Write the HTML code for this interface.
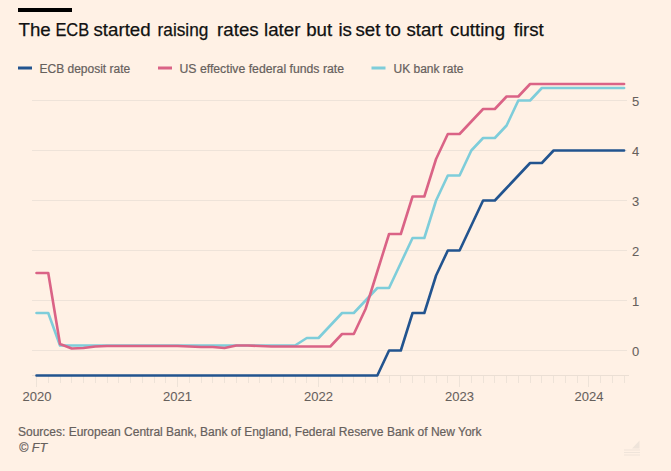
<!DOCTYPE html>
<html><head><meta charset="utf-8">
<style>
html,body{margin:0;padding:0;background:#fff1e5;}
body{width:671px;height:471px;overflow:hidden;}
svg{display:block;}
text{font-family:"Liberation Sans",sans-serif;}
.ax{font-size:13px;fill:#66605c;stroke:#66605c;stroke-width:0.08px;}
.lg{font-size:12px;fill:#66605c;stroke:#66605c;stroke-width:0.2px;}
</style></head>
<body>
<svg width="671" height="471" viewBox="0 0 671 471">
<rect x="0" y="0" width="671" height="471" fill="#fff1e5"/>
<rect x="18" y="8" width="54" height="4" fill="#000"/>
<text y="36" style="font-size:18.7px;fill:#111;stroke:#111;stroke-width:0.25px"><tspan x="18.50">The</tspan><tspan x="55.40" textLength="33.8" lengthAdjust="spacingAndGlyphs">ECB</tspan><tspan x="93.50">started</tspan><tspan x="157.60" textLength="50.7" lengthAdjust="spacingAndGlyphs">raising</tspan><tspan x="217.10">rates</tspan><tspan x="264.00">later</tspan><tspan x="306.20">but</tspan><tspan x="338.40">is</tspan><tspan x="355.50">set</tspan><tspan x="385.30">to</tspan><tspan x="406.40">start</tspan><tspan x="450.10">cutting</tspan><tspan x="513.70">first</tspan></text>
<rect x="18" y="66.5" width="14" height="3" fill="#22548f"/>
<text x="39.5" y="73" class="lg">ECB deposit rate</text>
<rect x="158" y="66.5" width="14" height="3" fill="#da6386"/>
<text x="179.5" y="73" class="lg" textLength="164.5" lengthAdjust="spacingAndGlyphs">US effective federal funds rate</text>
<rect x="371.5" y="66.5" width="14" height="3" fill="#7ecdda"/>
<text x="393.5" y="73" class="lg">UK bank rate</text>
<line x1="32" y1="350.5" x2="627" y2="350.5" stroke="#eee3d9" stroke-width="1"/>
<text x="632" y="355.5" class="ax">0</text>
<line x1="32" y1="300.5" x2="627" y2="300.5" stroke="#eee3d9" stroke-width="1"/>
<text x="632" y="305.5" class="ax">1</text>
<line x1="32" y1="250.5" x2="627" y2="250.5" stroke="#eee3d9" stroke-width="1"/>
<text x="632" y="255.5" class="ax">2</text>
<line x1="32" y1="200.5" x2="627" y2="200.5" stroke="#eee3d9" stroke-width="1"/>
<text x="632" y="205.5" class="ax">3</text>
<line x1="32" y1="150.5" x2="627" y2="150.5" stroke="#eee3d9" stroke-width="1"/>
<text x="632" y="155.5" class="ax">4</text>
<line x1="32" y1="100.5" x2="627" y2="100.5" stroke="#eee3d9" stroke-width="1"/>
<text x="632" y="105.5" class="ax">5</text>

<line x1="32" y1="375.5" x2="629" y2="375.5" stroke="#ebdfd4" stroke-width="1"/>
<line x1="36.5" y1="376" x2="36.5" y2="387" stroke="#eee3d8" stroke-width="1"/>
<text x="36.9" y="401" class="ax" text-anchor="middle">2020</text>
<line x1="48.5" y1="376" x2="48.5" y2="383" stroke="#eee3d8" stroke-width="1"/>
<line x1="60.5" y1="376" x2="60.5" y2="383" stroke="#eee3d8" stroke-width="1"/>
<line x1="71.5" y1="376" x2="71.5" y2="383" stroke="#eee3d8" stroke-width="1"/>
<line x1="83.5" y1="376" x2="83.5" y2="383" stroke="#eee3d8" stroke-width="1"/>
<line x1="95.5" y1="376" x2="95.5" y2="383" stroke="#eee3d8" stroke-width="1"/>
<line x1="107.5" y1="376" x2="107.5" y2="383" stroke="#eee3d8" stroke-width="1"/>
<line x1="118.5" y1="376" x2="118.5" y2="383" stroke="#eee3d8" stroke-width="1"/>
<line x1="130.5" y1="376" x2="130.5" y2="383" stroke="#eee3d8" stroke-width="1"/>
<line x1="142.5" y1="376" x2="142.5" y2="383" stroke="#eee3d8" stroke-width="1"/>
<line x1="154.5" y1="376" x2="154.5" y2="383" stroke="#eee3d8" stroke-width="1"/>
<line x1="165.5" y1="376" x2="165.5" y2="383" stroke="#eee3d8" stroke-width="1"/>
<line x1="177.5" y1="376" x2="177.5" y2="387" stroke="#eee3d8" stroke-width="1"/>
<text x="177.5" y="401" class="ax" text-anchor="middle">2021</text>
<line x1="189.5" y1="376" x2="189.5" y2="383" stroke="#eee3d8" stroke-width="1"/>
<line x1="201.5" y1="376" x2="201.5" y2="383" stroke="#eee3d8" stroke-width="1"/>
<line x1="212.5" y1="376" x2="212.5" y2="383" stroke="#eee3d8" stroke-width="1"/>
<line x1="224.5" y1="376" x2="224.5" y2="383" stroke="#eee3d8" stroke-width="1"/>
<line x1="236.5" y1="376" x2="236.5" y2="383" stroke="#eee3d8" stroke-width="1"/>
<line x1="248.5" y1="376" x2="248.5" y2="383" stroke="#eee3d8" stroke-width="1"/>
<line x1="259.5" y1="376" x2="259.5" y2="383" stroke="#eee3d8" stroke-width="1"/>
<line x1="271.5" y1="376" x2="271.5" y2="383" stroke="#eee3d8" stroke-width="1"/>
<line x1="283.5" y1="376" x2="283.5" y2="383" stroke="#eee3d8" stroke-width="1"/>
<line x1="295.5" y1="376" x2="295.5" y2="383" stroke="#eee3d8" stroke-width="1"/>
<line x1="306.5" y1="376" x2="306.5" y2="383" stroke="#eee3d8" stroke-width="1"/>
<line x1="318.5" y1="376" x2="318.5" y2="387" stroke="#eee3d8" stroke-width="1"/>
<text x="318.5" y="401" class="ax" text-anchor="middle">2022</text>
<line x1="330.5" y1="376" x2="330.5" y2="383" stroke="#eee3d8" stroke-width="1"/>
<line x1="342.5" y1="376" x2="342.5" y2="383" stroke="#eee3d8" stroke-width="1"/>
<line x1="353.5" y1="376" x2="353.5" y2="383" stroke="#eee3d8" stroke-width="1"/>
<line x1="365.5" y1="376" x2="365.5" y2="383" stroke="#eee3d8" stroke-width="1"/>
<line x1="377.5" y1="376" x2="377.5" y2="383" stroke="#eee3d8" stroke-width="1"/>
<line x1="389.5" y1="376" x2="389.5" y2="383" stroke="#eee3d8" stroke-width="1"/>
<line x1="400.5" y1="376" x2="400.5" y2="383" stroke="#eee3d8" stroke-width="1"/>
<line x1="412.5" y1="376" x2="412.5" y2="383" stroke="#eee3d8" stroke-width="1"/>
<line x1="424.5" y1="376" x2="424.5" y2="383" stroke="#eee3d8" stroke-width="1"/>
<line x1="436.5" y1="376" x2="436.5" y2="383" stroke="#eee3d8" stroke-width="1"/>
<line x1="447.5" y1="376" x2="447.5" y2="383" stroke="#eee3d8" stroke-width="1"/>
<line x1="459.5" y1="376" x2="459.5" y2="387" stroke="#eee3d8" stroke-width="1"/>
<text x="459.5" y="401" class="ax" text-anchor="middle">2023</text>
<line x1="471.5" y1="376" x2="471.5" y2="383" stroke="#eee3d8" stroke-width="1"/>
<line x1="483.5" y1="376" x2="483.5" y2="383" stroke="#eee3d8" stroke-width="1"/>
<line x1="494.5" y1="376" x2="494.5" y2="383" stroke="#eee3d8" stroke-width="1"/>
<line x1="506.5" y1="376" x2="506.5" y2="383" stroke="#eee3d8" stroke-width="1"/>
<line x1="518.5" y1="376" x2="518.5" y2="383" stroke="#eee3d8" stroke-width="1"/>
<line x1="530.5" y1="376" x2="530.5" y2="383" stroke="#eee3d8" stroke-width="1"/>
<line x1="541.5" y1="376" x2="541.5" y2="383" stroke="#eee3d8" stroke-width="1"/>
<line x1="553.5" y1="376" x2="553.5" y2="383" stroke="#eee3d8" stroke-width="1"/>
<line x1="565.5" y1="376" x2="565.5" y2="383" stroke="#eee3d8" stroke-width="1"/>
<line x1="577.5" y1="376" x2="577.5" y2="383" stroke="#eee3d8" stroke-width="1"/>
<line x1="588.5" y1="376" x2="588.5" y2="387" stroke="#eee3d8" stroke-width="1"/>
<text x="589.0" y="401" class="ax" text-anchor="middle">2024</text>
<line x1="600.5" y1="376" x2="600.5" y2="383" stroke="#eee3d8" stroke-width="1"/>
<line x1="612.5" y1="376" x2="612.5" y2="383" stroke="#eee3d8" stroke-width="1"/>
<line x1="624.5" y1="376" x2="624.5" y2="383" stroke="#eee3d8" stroke-width="1"/>

<path d="M36.50,375.50 L48.25,375.50 L60.00,375.50 L71.76,375.50 L83.51,375.50 L95.26,375.50 L107.01,375.50 L118.76,375.50 L130.52,375.50 L142.27,375.50 L154.02,375.50 L165.77,375.50 L177.52,375.50 L189.28,375.50 L201.03,375.50 L212.78,375.50 L224.53,375.50 L236.28,375.50 L248.04,375.50 L259.79,375.50 L271.54,375.50 L283.29,375.50 L295.04,375.50 L306.80,375.50 L318.55,375.50 L330.30,375.50 L342.05,375.50 L353.80,375.50 L365.56,375.50 L377.31,375.50 L389.06,350.50 L400.81,350.50 L412.56,313.00 L424.32,313.00 L436.07,275.50 L447.82,250.50 L459.57,250.50 L471.32,225.50 L483.08,200.50 L494.83,200.50 L506.58,188.00 L518.33,175.50 L530.08,163.00 L541.84,163.00 L553.59,150.50 L565.34,150.50 L577.09,150.50 L588.84,150.50 L600.60,150.50 L612.35,150.50 L624.10,150.50" fill="none" stroke="#22548f" stroke-width="2.6" stroke-linejoin="round" stroke-linecap="round"/>
<path d="M36.50,313.00 L48.25,313.00 L60.00,345.50 L71.76,345.50 L83.51,345.50 L95.26,345.50 L107.01,345.50 L118.76,345.50 L130.52,345.50 L142.27,345.50 L154.02,345.50 L165.77,345.50 L177.52,345.50 L189.28,345.50 L201.03,345.50 L212.78,345.50 L224.53,345.50 L236.28,345.50 L248.04,345.50 L259.79,345.50 L271.54,345.50 L283.29,345.50 L295.04,345.50 L306.80,338.00 L318.55,338.00 L330.30,325.50 L342.05,313.00 L353.80,313.00 L365.56,300.50 L377.31,288.00 L389.06,288.00 L400.81,263.00 L412.56,238.00 L424.32,238.00 L436.07,200.50 L447.82,175.50 L459.57,175.50 L471.32,150.50 L483.08,138.00 L494.83,138.00 L506.58,125.50 L518.33,100.50 L530.08,100.50 L541.84,88.00 L553.59,88.00 L565.34,88.00 L577.09,88.00 L588.84,88.00 L600.60,88.00 L612.35,88.00 L624.10,88.00" fill="none" stroke="#7ecdda" stroke-width="2.6" stroke-linejoin="round" stroke-linecap="round"/>
<path d="M36.50,273.00 L48.25,273.00 L60.00,344.00 L71.76,348.50 L83.51,348.00 L95.26,346.50 L107.01,346.00 L118.76,346.00 L130.52,346.00 L142.27,346.00 L154.02,346.00 L165.77,346.00 L177.52,346.00 L189.28,346.50 L201.03,347.00 L212.78,347.00 L224.53,348.00 L236.28,345.50 L248.04,345.50 L259.79,346.00 L271.54,346.50 L283.29,346.50 L295.04,346.50 L306.80,346.50 L318.55,346.50 L330.30,346.50 L342.05,334.00 L353.80,334.00 L365.56,309.00 L377.31,271.50 L389.06,234.00 L400.81,234.00 L412.56,196.50 L424.32,196.50 L436.07,159.00 L447.82,134.00 L459.57,134.00 L471.32,121.50 L483.08,109.00 L494.83,109.00 L506.58,96.50 L518.33,96.50 L530.08,84.00 L541.84,84.00 L553.59,84.00 L565.34,84.00 L577.09,84.00 L588.84,84.00 L600.60,84.00 L612.35,84.00 L624.10,84.00" fill="none" stroke="#da6386" stroke-width="2.6" stroke-linejoin="round" stroke-linecap="round"/>
<text x="18" y="436" class="lg">Sources: European Central Bank, Bank of England, Federal Reserve Bank of New York</text>
<text x="19" y="451.5" class="lg" style="font-style:italic;font-size:12.6px">© FT</text>
<g fill="#efe4da">
<path d="M639.5,440.5 L639.5,448.5 L632,448.5 Z"/>
<rect x="624" y="449.5" width="16" height="1"/>
<rect x="624" y="452" width="16" height="1"/>
<rect x="624" y="454.5" width="16" height="1"/>
</g>
</svg>
</body></html>
